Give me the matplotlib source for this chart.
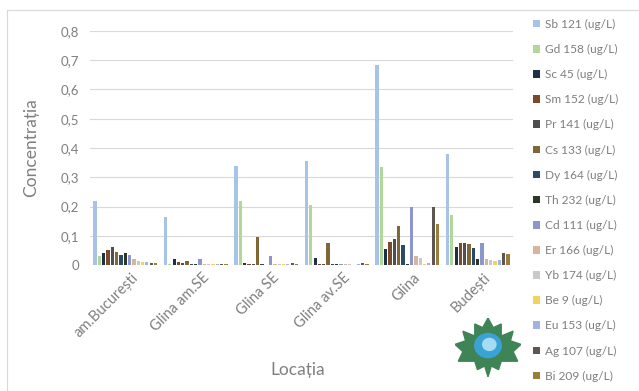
import matplotlib
matplotlib.use("Agg")
import matplotlib.pyplot as plt
import matplotlib.transforms as mtransforms
import numpy as np
from matplotlib.ticker import FuncFormatter, MultipleLocator
from matplotlib.patches import Polygon, Circle

plt.rcParams['font.family'] = ['Lato', 'DejaVu Sans']

locations = ["am.București", "Glina am.SE", "Glina SE", "Glina av.SE", "Glina", "Budești"]

elements = ["Sb 121 (ug/L)", "Gd 158 (ug/L)", "Sc 45 (ug/L)", "Sm 152 (ug/L)",
            "Pr 141 (ug/L)", "Cs 133 (ug/L)", "Dy 164 (ug/L)", "Th 232 (ug/L)",
            "Cd 111 (ug/L)", "Er 166 (ug/L)", "Yb 174 (ug/L)", "Be 9 (ug/L)",
            "Eu 153 (ug/L)", "Ag 107 (ug/L)", "Bi 209 (ug/L)"]

# concentrations per location, in the element order above
am_bucuresti = [0.22, 0.03, 0.04, 0.05, 0.06, 0.045, 0.035, 0.04, 0.035, 0.02, 0.012, 0.01, 0.01, 0.008, 0.008]
glina_am_se = [0.165, 0.005, 0.02, 0.01, 0.008, 0.012, 0.005, 0.003, 0.02, 0.004, 0.003, 0.002, 0.002, 0.003, 0.003]
glina_se = [0.34, 0.22, 0.008, 0.004, 0.003, 0.095, 0.002, 0.001, 0.03, 0.004, 0.003, 0.002, 0.002, 0.006, 0.003]
glina_av_se = [0.355, 0.205, 0.025, 0.005, 0.004, 0.075, 0.003, 0.002, 0.005, 0.003, 0.002, 0.001, 0.002, 0.008, 0.004]
glina = [0.685, 0.335, 0.055, 0.08, 0.09, 0.135, 0.07, 0.005, 0.2, 0.03, 0.025, 0.005, 0.008, 0.2, 0.14]
budesti = [0.38, 0.17, 0.062, 0.075, 0.075, 0.072, 0.058, 0.022, 0.075, 0.02, 0.018, 0.015, 0.018, 0.042, 0.038]

colors = ["#a7c4e6", "#b3d69b", "#1f2f45", "#7b4a2c", "#4f4f4f", "#7f6836",
          "#2c4a66", "#2a362a", "#8b97cc", "#d9b3a1", "#c9c9c9", "#f2d35c",
          "#9fb2e3", "#5e5650", "#9a7f3c"]

table = np.array([am_bucuresti, glina_am_se, glina_se, glina_av_se, glina, budesti])

fig = plt.figure(figsize=(6.39, 3.91), dpi=100)
ax = fig.add_axes([90 / 639, 1 - 265 / 391, 423 / 639, 234 / 391])

n = len(elements)
slot = 0.0613
x = np.arange(len(locations))
handles = []
for j in range(n):
    h = ax.bar(x + (j - (n - 1) / 2) * slot, table[:, j], width=slot * 0.75,
               color=colors[j], label=elements[j], zorder=3)
    handles.append(h)

ax.set_xlim(-0.5, len(locations) - 0.5)
ax.set_ylim(0, 0.8)
ax.yaxis.set_major_locator(MultipleLocator(0.1))
ax.yaxis.set_major_formatter(FuncFormatter(
    lambda v, p: "0" if abs(v) < 1e-9 else f"{v:.1f}".replace(".", ",")))
ax.grid(axis='y', color="#d9d9d9", linewidth=0.8, zorder=0)
for s in ax.spines.values():
    s.set_visible(False)
ax.tick_params(axis='y', length=0, colors="#7f7f7f", labelsize=9.5, pad=8)
ax.tick_params(axis='x', length=0, colors="#7f7f7f", labelsize=10.5, pad=4)
ax.set_xticks(x)
ax.set_xticklabels(locations, rotation=45, ha='right', rotation_mode='anchor')
shift = mtransforms.ScaledTranslation(6 / 100, 0, fig.dpi_scale_trans)
for lbl in ax.get_xticklabels():
    lbl.set_transform(lbl.get_transform() + shift)

ax.set_ylabel("Concentrația", color="#7f7f7f", fontsize=12.5)
ax.yaxis.set_label_coords(-0.12, 0.5)
ax.set_xlabel("Locația", color="#7f7f7f", fontsize=12.5)
ax.xaxis.set_label_coords(0.49, -0.415)

leg = fig.legend(handles=handles, labels=elements, loc='upper left',
                 bbox_to_anchor=(522 / 639, 1 - 8 / 391), frameon=False,
                 fontsize=8.6, labelcolor="#7f7f7f", handlelength=0.6,
                 handleheight=0.6, handletextpad=0.4, labelspacing=1.18)

# chart border
fig.add_artist(plt.Line2D([7 / 639, 7 / 639], [0, 1 - 10 / 391], transform=fig.transFigure,
                          color="#d9d9d9", linewidth=0.8))
fig.add_artist(plt.Line2D([7 / 639, 1], [1 - 10 / 391, 1 - 10 / 391], transform=fig.transFigure,
                          color="#d9d9d9", linewidth=0.8))

# leaf emblem
lax = fig.add_axes([455 / 639, 1 - 378 / 391, 66 / 639, 60 / 391])
lax.set_xlim(0, 1)
lax.set_ylim(0, 1)
lax.axis('off')
leaf = [(0.5, 1.0), (0.58, 0.84), (0.7, 0.9), (0.7, 0.7), (0.88, 0.78), (0.84, 0.62),
        (1.0, 0.56), (0.88, 0.44), (0.95, 0.28), (0.7, 0.28), (0.66, 0.14), (0.55, 0.2),
        (0.5, 0.02), (0.45, 0.2), (0.34, 0.14), (0.3, 0.28), (0.05, 0.28), (0.12, 0.44),
        (0.0, 0.56), (0.16, 0.62), (0.12, 0.78), (0.3, 0.7), (0.3, 0.9), (0.42, 0.84)]
lax.add_patch(Polygon(leaf, closed=True, color="#3f8456"))
lax.add_patch(Circle((0.5, 0.54), 0.2, color="#3aa3d6"))
lax.add_patch(Circle((0.52, 0.56), 0.1, color="#a6dcf2"))

fig.savefig("out.png", dpi=100, facecolor="white")
